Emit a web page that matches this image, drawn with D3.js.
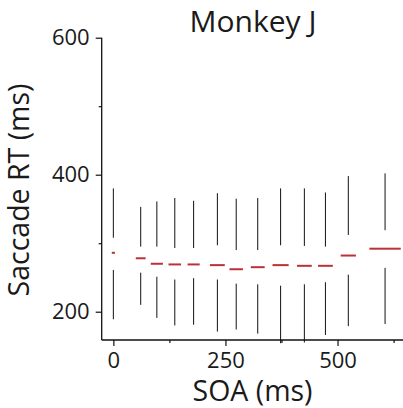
<!DOCTYPE html>
<html>
<head>
<meta charset="utf-8">
<script src="https://cdn.jsdelivr.net/npm/d3@7"></script>
<style>
  html, body { margin: 0; padding: 0; background: #fff; }
  svg { display: block; }
  text { font-family: "Open Sans", "Noto Sans", sans-serif; fill: #1a1a1a; }
</style>
</head>
<body>
<div id="chart"></div>
<script>
// Saccade reaction time per SOA bin (ms): whiskers, quartiles and medians
const soa       = [0, 61, 97, 137, 179, 232, 274, 322, 373, 426, 473, 524, 606];
const binWidth  = [7, 22, 27, 28, 27, 33, 30, 31, 36, 33, 33, 34, 70];
const whiskerLo = [189, 210, 191, 180, 181, 171, 174, 168, 154, 155, 166, 179, 182];
const q1        = [261, 257, 251, 247, 249, 247, 241, 240, 238, 240, 243, 254, 264];
const median    = [286, 278, 270, 269, 269, 268, 262, 265, 268, 267, 267, 282, 292];
const q3        = [308, 295, 295, 293, 293, 297, 290, 290, 297, 296, 295, 312, 319];
const whiskerHi = [380, 353, 361, 366, 362, 373, 365, 366, 380, 380, 374, 398, 402];

const xMajor = [0, 250, 500];
const xMinor = [125, 375, 625];
const yMajor = [200, 400, 600];
const yMinor = [300, 500];

const title = "Monkey J";
const xTitle = "SOA (ms)";
const yTitle = "Saccade RT (ms)";

const W = 403, H = 408;
const plotL = 101.7, plotR = 403, plotT = 37.7, plotB = 340;

const x = d3.scaleLinear().domain([-26, 646]).range([plotL, plotR]);
const y = d3.scaleLinear().domain([158.7, 600]).range([plotB, plotT]);

const svg = d3.select("#chart").append("svg")
  .attr("width", W).attr("height", H);

const rows = soa.map((s, i) => ({
  soa: s, w: binWidth[i], lo: whiskerLo[i], q1: q1[i],
  med: median[i], q3: q3[i], hi: whiskerHi[i]
}));

// whiskers: lower (min..Q1) and upper (Q3..max)
const g = svg.append("g");
g.selectAll("line.lower").data(rows).join("line")
  .attr("class", "lower")
  .attr("x1", d => x(d.soa)).attr("x2", d => x(d.soa))
  .attr("y1", d => y(d.lo)).attr("y2", d => y(d.q1))
  .attr("stroke", "#111").attr("stroke-width", 1);
g.selectAll("line.upper").data(rows).join("line")
  .attr("class", "upper")
  .attr("x1", d => x(d.soa)).attr("x2", d => x(d.soa))
  .attr("y1", d => y(d.q3)).attr("y2", d => y(d.hi))
  .attr("stroke", "#111").attr("stroke-width", 1);

// medians
g.selectAll("line.median").data(rows).join("line")
  .attr("class", "median")
  .attr("x1", d => x(d.soa - d.w / 2)).attr("x2", d => x(d.soa + d.w / 2))
  .attr("y1", d => y(d.med)).attr("y2", d => y(d.med))
  .attr("stroke", "#b8323a").attr("stroke-width", 2);

// axes
const tickFont = "22px";
const xAxis = svg.append("g").attr("transform", `translate(0,${plotB})`)
  .call(d3.axisBottom(x).tickValues(xMajor).tickSize(6).tickPadding(6).tickFormat(d3.format("d")));
const xAxisMinor = svg.append("g").attr("transform", `translate(0,${plotB})`)
  .call(d3.axisBottom(x).tickValues(xMinor).tickSize(3).tickFormat(""));
const yAxis = svg.append("g").attr("transform", `translate(${plotL},0)`)
  .call(d3.axisLeft(y).tickValues(yMajor).tickSize(6).tickPadding(6).tickFormat(d3.format("d")));
const yAxisMinor = svg.append("g").attr("transform", `translate(${plotL},0)`)
  .call(d3.axisLeft(y).tickValues(yMinor).tickSize(3).tickFormat(""));

[xAxis, xAxisMinor, yAxis, yAxisMinor].forEach(a => {
  a.select(".domain").remove();
  a.selectAll(".tick line").attr("stroke", "#111").attr("stroke-width", 1.2);
  a.selectAll(".tick text").style("font-size", tickFont).attr("fill", "#1a1a1a")
    .style("font-family", '"Open Sans", sans-serif');
});

// spines
svg.append("line").attr("x1", plotL).attr("x2", plotL).attr("y1", plotT).attr("y2", plotB)
  .attr("stroke", "#111").attr("stroke-width", 1.3);
svg.append("line").attr("x1", plotL).attr("x2", plotR).attr("y1", plotB).attr("y2", plotB)
  .attr("stroke", "#111").attr("stroke-width", 1.3);

// titles
svg.append("text").attr("x", 253).attr("y", 31.5).attr("text-anchor", "middle")
  .style("font-size", "30px").text(title);
svg.append("text").attr("x", 252.5).attr("y", 401).attr("text-anchor", "middle")
  .style("font-size", "28.5px").text(xTitle);
svg.append("text").attr("transform", "translate(29,190) rotate(-90)")
  .attr("text-anchor", "middle").style("font-size", "28.5px").text(yTitle);
</script>
</body>
</html>
